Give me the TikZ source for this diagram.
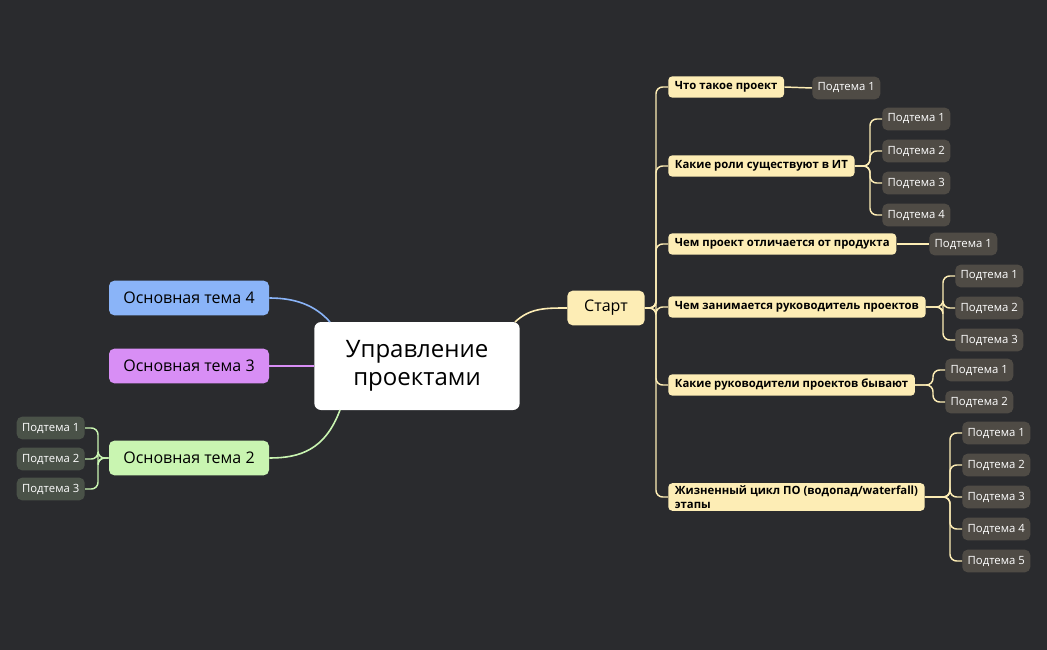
\documentclass[tikz,border=0pt]{standalone}
\usepackage{fontspec}
\setmainfont{Open Sans}
\definecolor{bg}{HTML}{2A2B2E}
\definecolor{yel}{HTML}{FDEDB5}
\definecolor{sub}{HTML}{4F4B45}
\definecolor{gsub}{HTML}{4A5248}
\definecolor{blu}{HTML}{8AB4F8}
\definecolor{pur}{HTML}{D88EF5}
\definecolor{grn}{HTML}{C9F5B1}
\begin{document}
\begin{tikzpicture}[x=0.75pt,y=-0.75pt,
  lvl/.style={fill=yel,rounded corners=3pt,font=\bfseries\fontsize{8.5}{10}\selectfont,text=black,anchor=west,inner xsep=5pt,minimum height=16pt,align=left},
  sb/.style={fill=sub,rounded corners=4pt,font=\fontsize{8.5}{10}\selectfont,text=white,anchor=west,minimum height=17pt,minimum width=51pt},
  gs/.style={sb,fill=gsub,anchor=east},
  main/.style={rounded corners=4pt,font=\fontsize{12}{14}\selectfont,text=black,minimum width=120pt,minimum height=26pt},
  ln/.style={draw=yel,line width=1.1pt,rounded corners=5pt},
  every node/.style={inner sep=2pt}]
\fill[bg] (0,0) rectangle (1047,650);
\useasboundingbox (0,0) rectangle (1047,650);
\node[fill=white,rounded corners=5pt,minimum width=154pt,minimum height=66pt,align=center,font=\fontsize{18}{21}\selectfont] (c) at (417,366) {Управление\\проектами};
\node[main,fill=yel,minimum width=58pt] (s) at (606,308) {Старт};
\node[main,fill=blu] (t4) at (189,298) {Основная тема 4};
\node[main,fill=pur] (t3) at (189,366) {Основная тема 3};
\node[main,fill=grn] (t2) at (189,458) {Основная тема 2};
\draw[blu,line width=1.2pt] (330,322) .. controls (315,305) and (295,298) .. (t4.east);
\draw[pur,line width=1.2pt] (c.west) -- (t3.east);
\draw[grn,line width=1.2pt] (340,410) .. controls (325,450) and (300,458) .. (t2.east);
\draw[yel,line width=1.2pt] (515,322) .. controls (530,308) and (545,308) .. (s.west);
% left subs
\node[gs] (l1) at (85,428) {Подтема 1};
\node[gs] (l2) at (85,459) {Подтема 2};
\node[gs] (l3) at (85,489) {Подтема 3};
\coordinate (lb) at (98,458);
\foreach \n in {l1,l2,l3} \draw[grn,line width=1.1pt,rounded corners=5pt] (t2.west) -- (lb) |- (\n.east);
% level 2
\node[lvl] (a1) at (668,87) {Что такое проект};
\node[lvl] (a2) at (668,166) {Какие роли существуют в ИТ};
\node[lvl] (a3) at (668,244) {Чем проект отличается от продукта};
\node[lvl] (a4) at (668,307) {Чем занимается руководитель проектов};
\node[lvl] (a5) at (668,385) {Какие руководители проектов бывают};
\node[lvl] (a6) at (668,497) {Жизненный цикл ПО (водопад/waterfall)\\этапы};
\coordinate (sb) at (656,308);
\foreach \n in {a1,a2,a3,a4,a5,a6} \draw[ln] (s.east) -- (sb) |- (\n.west);
% subs
\node[sb] (b11) at (812,88) {Подтема 1};
\draw[ln] (a1.east) -- (b11.west);
\foreach \i/\y in {1/119,2/151,3/183,4/215} {\node[sb] (b2\i) at (882,\y) {Подтема \i};}
\coordinate (c2) at (870,166);
\foreach \i in {1,2,3,4} \draw[ln] (a2.east) -- (c2) |- (b2\i.west);
\node[sb] (b31) at (929,244) {Подтема 1};
\draw[ln] (a3.east) -- (b31.west);
\foreach \i/\y in {1/276,2/308,3/340} {\node[sb] (b4\i) at (955,\y) {Подтема \i};}
\coordinate (c4) at (943,307);
\foreach \i in {1,2,3} \draw[ln] (a4.east) -- (c4) |- (b4\i.west);
\foreach \i/\y in {1/370,2/402} {\node[sb] (b5\i) at (945,\y) {Подтема \i};}
\coordinate (c5) at (933,385);
\foreach \i in {1,2} \draw[ln] (a5.east) -- (c5) |- (b5\i.west);
\foreach \i/\y in {1/433,2/465,3/497,4/529,5/561} {\node[sb] (b6\i) at (962,\y) {Подтема \i};}
\coordinate (c6) at (950,497);
\foreach \i in {1,2,3,4,5} \draw[ln] (a6.east) -- (c6) |- (b6\i.west);
\end{tikzpicture}
\end{document}
